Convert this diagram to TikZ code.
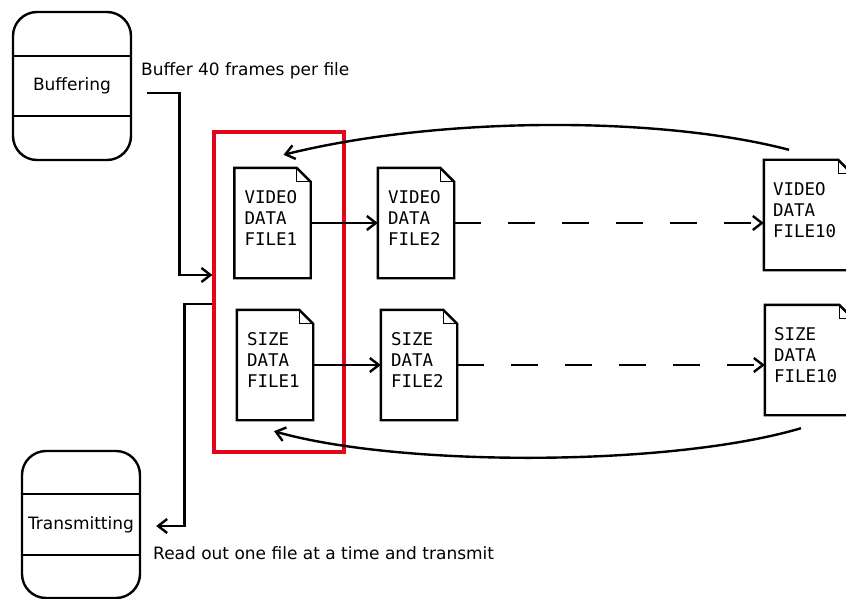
\documentclass[tikz,border=0pt]{standalone}
\usepackage{fontspec}
\setmainfont{DejaVu Sans}
\setmonofont{DejaVu Sans Mono}
\usepackage{tikz}
\usetikzlibrary{arrows.meta, positioning, calc}
\definecolor{PoolRed}{HTML}{E3061B}

\begin{document}
\begin{tikzpicture}[x=1pt, y=-1pt, >={Straight Barb[length=9pt, width=14pt]},
  stage/.style={draw, line width=2.4pt, rounded corners=24pt, minimum width=118pt,
    minimum height=148pt, inner sep=0pt, font=\fontsize{17}{20}\selectfont},
  datafile/.style={minimum width=76pt, minimum height=110pt, inner sep=0pt,
    text width=56pt, align=left, text depth=52pt, font=\fontsize{17.5}{21}\ttfamily},
  note/.style={anchor=west, inner sep=0pt, font=\fontsize{17}{20}\selectfont},
  conn/.style={->, line width=2.4pt}]
  \useasboundingbox (0,0) rectangle (846,599);
  \clip (0,0) rectangle (846,599);
  % States
  \node[stage] (buf) at (72,86) {Buffering};
  \node[stage, minimum height=147pt] (tx) at (81,524.5) {Transmitting};
  \draw[line width=2.4pt] ($(buf.north west)+(0,45)$) -- ($(buf.north east)+(0,45)$);
  \draw[line width=2.4pt] ($(buf.south west)+(0,-45)$) -- ($(buf.south east)+(0,-45)$);
  \draw[line width=2.4pt] ($(tx.north west)+(0,44)$) -- ($(tx.north east)+(0,44)$);
  \draw[line width=2.4pt] ($(tx.south west)+(0,-44)$) -- ($(tx.south east)+(0,-44)$);
  \node[note] (buflbl) at (141,71) {Buffer 40 frames per file};
  \node[note] (txlbl) at (153,553) {Read out one file at a time and transmit};
  % Files on disk
  \node[draw=PoolRed, line width=3.2pt, minimum width=130pt, minimum height=320pt] (pool) at (279,292) {};
  \node[datafile] (v1) at (272.5,223) {VIDEO\\DATA\\FILE1};
  \node[datafile] (v2) at (416,223) {VIDEO\\DATA\\FILE2};
  \node[datafile, minimum width=88pt, text width=70pt] (v10) at (808,215) {VIDEO\\DATA\\FILE10};
  \node[datafile] (s1) at (275,365) {SIZE\\DATA\\FILE1};
  \node[datafile] (s2) at (419,365) {SIZE\\DATA\\FILE2};
  \node[datafile, minimum width=88pt, text width=70pt] (s10) at (809,360) {SIZE\\DATA\\FILE10};
  \foreach \f in {v1,v2,v10,s1,s2,s10} {
    \draw[line width=2.4pt] (\f.south west) |- ($(\f.north east)+(-14,0)$)
      -- ($(\f.north east)+(0,14)$) |- cycle;
    \draw[line width=1pt] ($(\f.north east)+(-14,0)$) |- ($(\f.north east)+(0,14)$);
  }
  % Write in
  \draw[conn] ($(buf.east)+(15,7)$) -| ($(pool.west)+(-33,-17)$) -- ($(pool.west)+(0,-17)$);
  % Read out
  \draw[conn] ($(pool.west)+(0,12)$) -- ($(pool.west)+(-28,12)$) |- ($(tx.east)+(15,1.5)$);
  % File chains
  \draw[conn] (v1) -- (v2);
  \draw[conn, dash pattern=on 27pt off 27pt] (v2.east) -- (v2.east -| v10.west);
  \draw[conn] (s1) -- (s2);
  \draw[conn, dash pattern=on 27pt off 27pt] (s2.east) -- (s2.east -| s10.west);
  % Wrap around
  \draw[conn] ($(v10.north)+(-19,-10)$) .. controls (660,116) and (440,116) .. ($(v1.north)+(11,-13)$);
  \draw[conn] ($(s10.south)+(-8,13)$) .. controls (670,467) and (400,467) .. ($(s1.south)+(-1,11)$);
\end{tikzpicture}
\end{document}
